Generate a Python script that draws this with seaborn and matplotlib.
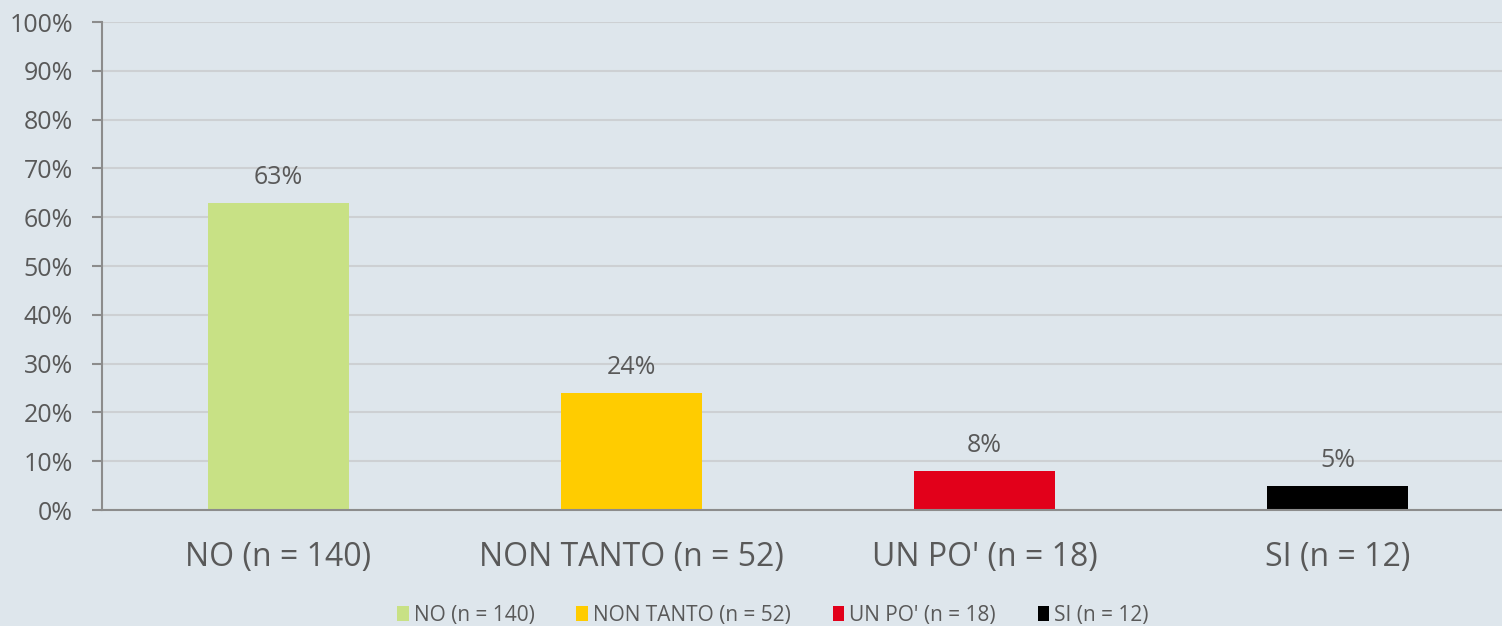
import seaborn as sns
import matplotlib.pyplot as plt
from matplotlib.ticker import PercentFormatter, FixedLocator

# dati
categorie = ["NO (n = 140)", "NON TANTO (n = 52)", "UN PO' (n = 18)", "SI (n = 12)"]
percentuali = [63, 24, 8, 5]
colori = ["#c8e185", "#ffcc00", "#e2001a", "#000000"]

bg = "#dee6ec"
testo = "#595959"

sns.set_style("white")
plt.rcParams['font.family'] = ['Open Sans', 'DejaVu Sans']

fig = plt.figure(figsize=(15.02, 6.26), dpi=100, facecolor=bg)
ax = fig.add_axes([102 / 1502, 116 / 626, 1412 / 1502, 488 / 626])
ax.set_facecolor(bg)

sns.barplot(x=categorie, y=percentuali, hue=categorie, palette=colori,
            width=0.4, saturation=1, linewidth=0, legend=True, ax=ax, zorder=3)

# etichette sopra le barre
for p in ax.patches:
    h = p.get_height()
    if h > 0:
        ax.annotate(f"{h:.0f}%", (p.get_x() + p.get_width() / 2, h),
                    ha='center', va='center', xytext=(0, 18),
                    textcoords='offset points', fontsize=18, color=testo)

ax.set_ylim(0, 100)
ax.set_xlim(-0.5, 3.5)
ax.set_yticks(range(0, 101, 10))
ax.yaxis.set_major_formatter(PercentFormatter(decimals=0))
ax.yaxis.grid(True, color="#cdd0d3", linewidth=1.5, zorder=0)

ax.xaxis.set_minor_locator(FixedLocator([-0.5, 0.5, 1.5, 2.5, 3.5]))
ax.tick_params(axis='x', which='major', length=0, pad=22, labelsize=23, labelcolor=testo)
ax.tick_params(axis='x', which='minor', length=8, width=1.5, color="#8c8c8c", direction='out')
ax.tick_params(axis='y', length=7, width=1.5, color="#8c8c8c", pad=14, labelsize=18,
               labelcolor=testo, left=True)

for s in ['top', 'right']:
    ax.spines[s].set_visible(False)
for s in ['left', 'bottom']:
    ax.spines[s].set_color("#8c8c8c")
    ax.spines[s].set_linewidth(1.5)
    ax.spines[s].set_zorder(4)

ax.set_xlabel('')
ax.set_ylabel('')

leg = ax.legend(loc='center', ncol=4, frameon=False, fontsize=15,
                handlelength=0.55, handleheight=0.75, handletextpad=0.25,
                columnspacing=2.0, labelcolor=testo)
leg.set_bbox_to_anchor(((773 - 102) / 1412, -(615 - 510) / 488), transform=ax.transAxes)

fig.savefig("out.png", dpi=100, facecolor=bg)
